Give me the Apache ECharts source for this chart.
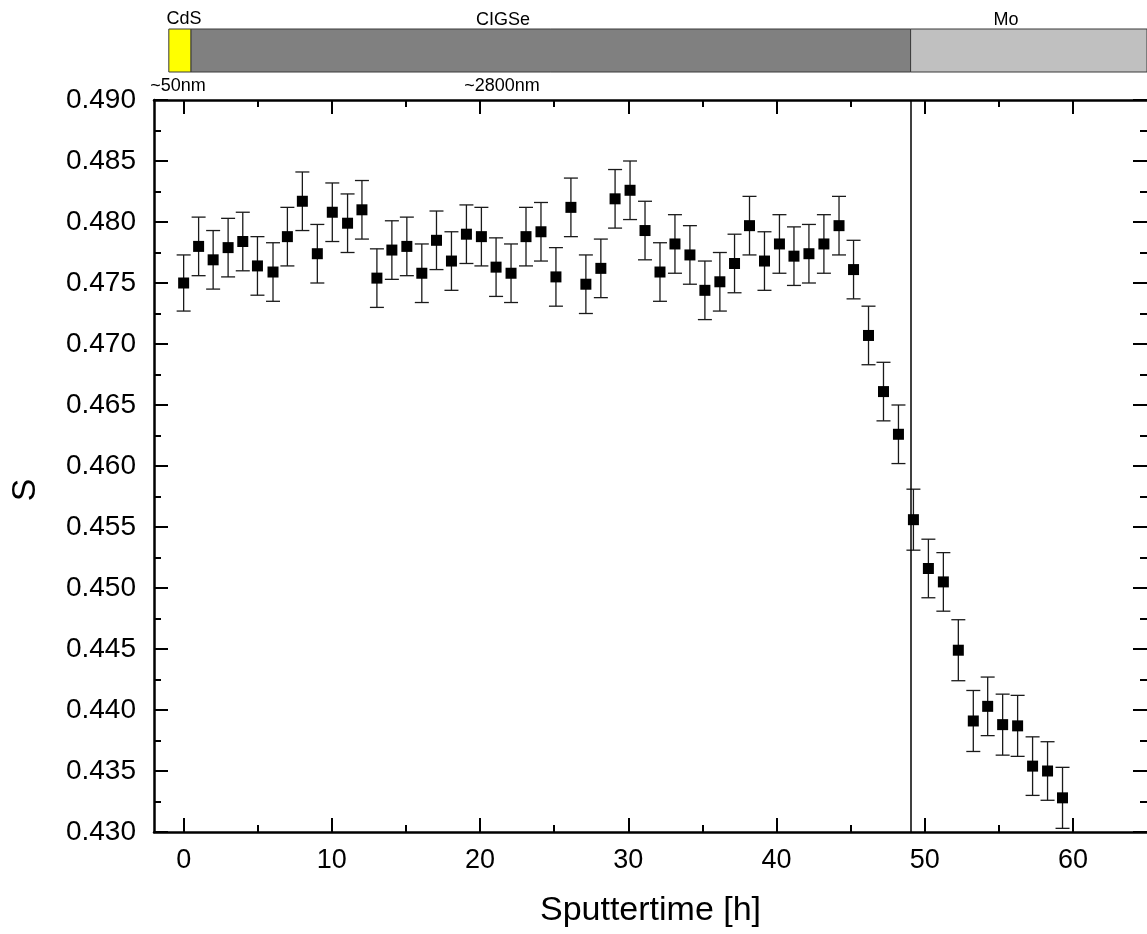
<!DOCTYPE html>
<html>
<head>
<meta charset="utf-8">
<title>S vs Sputtertime</title>
<script src="https://cdn.jsdelivr.net/npm/echarts@6/dist/echarts.min.js"></script>
<style>
  html, body { margin: 0; padding: 0; background: #fff; }
  #chart { width: 1147px; height: 934px; }
</style>
</head>
<body>
<div id="chart"></div>
<script>
// sputter time [h]
var sputterTime = [0, 1.01, 1.99, 3.0, 3.99, 4.98, 6.03, 7.0, 8.01, 9.02,
  10.03, 11.06, 12.03, 13.04, 14.05, 15.06, 16.07, 17.06, 18.07, 19.08,
  20.09, 21.08, 22.09, 23.1, 24.11, 25.12, 26.13, 27.14, 28.15, 29.11,
  30.12, 31.13, 32.14, 33.15, 34.16, 35.17, 36.18, 37.17, 38.18, 39.19,
  40.2, 41.18, 42.19, 43.2, 44.22, 45.2, 46.21, 47.22, 48.23, 49.24,
  50.25, 51.26, 52.27, 53.28, 54.25, 55.26, 56.27, 57.28, 58.29, 59.3];
// S value
var sValue = [0.4750, 0.4780, 0.4769, 0.4779, 0.4784, 0.4764, 0.4759, 0.4788, 0.4817, 0.4774,
  0.4808, 0.4799, 0.4810, 0.4754, 0.4777, 0.4780, 0.4758, 0.4785, 0.4768, 0.4790,
  0.4788, 0.4763, 0.4758, 0.4788, 0.4792, 0.4755, 0.4812, 0.4749, 0.4762, 0.4819,
  0.4826, 0.4793, 0.4759, 0.4782, 0.4773, 0.4744, 0.4751, 0.4766, 0.4797, 0.4768,
  0.4782, 0.4772, 0.4774, 0.4782, 0.4797, 0.4761, 0.4707, 0.4661, 0.4626, 0.4556,
  0.4516, 0.4505, 0.4449, 0.4391, 0.4403, 0.4388, 0.4387, 0.4354, 0.4350, 0.4328];
// error (+/-)
var sError = [0.0023, 0.0024, 0.0024, 0.0024, 0.0024, 0.0024, 0.0024, 0.0024, 0.0024, 0.0024,
  0.0024, 0.0024, 0.0024, 0.0024, 0.0024, 0.0024, 0.0024, 0.0024, 0.0024, 0.0024,
  0.0024, 0.0024, 0.0024, 0.0024, 0.0024, 0.0024, 0.0024, 0.0024, 0.0024, 0.0024,
  0.0024, 0.0024, 0.0024, 0.0024, 0.0024, 0.0024, 0.0024, 0.0024, 0.0024, 0.0024,
  0.0024, 0.0024, 0.0024, 0.0024, 0.0024, 0.0024, 0.0024, 0.0024, 0.0024, 0.0025,
  0.0024, 0.0024, 0.0025, 0.0025, 0.0024, 0.0025, 0.0025, 0.0024, 0.0024, 0.0025];

var xMajorTicks = [0, 10, 20, 30, 40, 50, 60];
var xMinorTicks = [5, 15, 25, 35, 45, 55];
var boundaryTime = 49.05;   // CIGSe / Mo

// layer stack on top
var layerNames = ['CdS', 'CIGSe', 'Mo'];
var layerStart = [-1, 0.5, 49.05];
var layerEnd = [0.5, 49.05, 65];
var thicknessLabels = ['~50nm', '~2800nm'];

var FONT = "'Liberation Sans', Arial, sans-serif";
var layerColors = ['#ffff00', '#808080', '#c0c0c0'];

var myChart = echarts.init(document.getElementById('chart'));

var points = [], errData = [], layerData = [];
for (var i = 0; i < sputterTime.length; i++) {
  points.push([sputterTime[i], sValue[i]]);
  errData.push([sputterTime[i], sValue[i] - sError[i], sValue[i] + sError[i]]);
}
for (var j = 0; j < layerNames.length; j++) {
  layerData.push([layerStart[j], layerEnd[j], j]);
}

function renderError(params, api) {
  var lo = api.coord([api.value(0), api.value(1)]);
  var hi = api.coord([api.value(0), api.value(2)]);
  var w = 7;
  var st = { stroke: '#1a1a1a', lineWidth: 1.3 };
  return {
    type: 'group',
    children: [
      { type: 'line', shape: { x1: lo[0], y1: lo[1], x2: hi[0], y2: hi[1] }, style: st },
      { type: 'line', shape: { x1: lo[0] - w, y1: lo[1], x2: lo[0] + w, y2: lo[1] }, style: st },
      { type: 'line', shape: { x1: hi[0] - w, y1: hi[1], x2: hi[0] + w, y2: hi[1] }, style: st }
    ]
  };
}

function renderLayer(params, api) {
  var p0 = api.coord([api.value(0), 1]);
  var p1 = api.coord([api.value(1), 0]);
  return {
    type: 'rect',
    shape: { x: p0[0], y: p0[1], width: p1[0] - p0[0], height: p1[1] - p0[1] },
    style: { fill: layerColors[api.value(2)], stroke: '#3a3a3a', lineWidth: 1 }
  };
}

function tickAxis(pos, values, len, showLine) {
  return {
    type: 'value', gridIndex: 0, position: pos, min: -2, max: 65,
    axisLine: { show: showLine, onZero: false, lineStyle: { color: '#000', width: 2.5 } },
    axisTick: { show: true, inside: true, length: len, customValues: values,
      lineStyle: { color: '#000', width: 2 } },
    axisLabel: { show: false },
    splitLine: { show: false }
  };
}

var bottomAxis = tickAxis('bottom', xMajorTicks, 14, true);
bottomAxis.axisLabel = { show: true, customValues: xMajorTicks, fontSize: 27,
  fontFamily: FONT, color: '#000', margin: 15 };
bottomAxis.name = 'Sputtertime [h]';
bottomAxis.nameLocation = 'middle';
bottomAxis.nameGap = 62;
bottomAxis.nameTextStyle = { fontSize: 34, fontFamily: FONT, color: '#000' };

function yAxisOf(pos, showLabel, showLine) {
  return {
    type: 'value', gridIndex: 0, position: pos, min: 0.43, max: 0.49, interval: 0.005,
    axisLine: { show: showLine, onZero: false, lineStyle: { color: '#000', width: 2.5 } },
    axisTick: { show: true, inside: true, length: 14, lineStyle: { color: '#000', width: 2 } },
    minorTick: { show: true, splitNumber: 2, length: 7, lineStyle: { color: '#000', width: 2 } },
    axisLabel: { show: showLabel, fontSize: 28, fontFamily: FONT, color: '#000', margin: 18,
      formatter: function (v) { return v.toFixed(3); } },
    splitLine: { show: false }
  };
}

myChart.setOption({
  animation: false,
  backgroundColor: '#fff',
  grid: [
    { left: 154, right: -2, top: 100, bottom: 102 },
    { left: 154, right: -2, top: 29, height: 43 }
  ],
  xAxis: [
    bottomAxis,
    tickAxis('bottom', xMinorTicks, 7, false),
    tickAxis('top', xMajorTicks, 14, true),
    tickAxis('top', xMinorTicks, 7, false),
    { type: 'value', gridIndex: 1, min: -2, max: 65, show: false }
  ],
  yAxis: [
    yAxisOf('left', true, true),
    yAxisOf('right', false, false),
    { type: 'value', gridIndex: 1, min: 0, max: 1, show: false }
  ],
  graphic: [
    { type: 'text', x: 26, y: 490, rotation: Math.PI / 2,
      style: { text: 'S', font: '34px ' + FONT, fill: '#000', align: 'center', verticalAlign: 'middle' } },
    { type: 'text', x: 184, y: 19,
      style: { text: layerNames[0], font: '18px ' + FONT, fill: '#000', align: 'center', verticalAlign: 'middle' } },
    { type: 'text', x: 503, y: 20,
      style: { text: layerNames[1], font: '18px ' + FONT, fill: '#000', align: 'center', verticalAlign: 'middle' } },
    { type: 'text', x: 1006, y: 20,
      style: { text: layerNames[2], font: '18px ' + FONT, fill: '#000', align: 'center', verticalAlign: 'middle' } },
    { type: 'text', x: 178, y: 86,
      style: { text: thicknessLabels[0], font: '18px ' + FONT, fill: '#000', align: 'center', verticalAlign: 'middle' } },
    { type: 'text', x: 502, y: 86,
      style: { text: thicknessLabels[1], font: '18px ' + FONT, fill: '#000', align: 'center', verticalAlign: 'middle' } }
  ],
  series: [
    {
      type: 'custom', xAxisIndex: 4, yAxisIndex: 2,
      renderItem: renderLayer, data: layerData, silent: true
    },
    {
      type: 'custom', xAxisIndex: 0, yAxisIndex: 0,
      renderItem: renderError, data: errData, z: 2, silent: true
    },
    {
      type: 'scatter', xAxisIndex: 0, yAxisIndex: 0,
      symbol: 'rect', symbolSize: 11,
      itemStyle: { color: '#000', opacity: 1 },
      data: points, z: 3,
      markLine: {
        silent: true, symbol: 'none', label: { show: false },
        lineStyle: { color: '#000', width: 1.5, type: 'solid', opacity: 1 },
        data: [{ xAxis: boundaryTime }]
      }
    }
  ]
});
</script>
</body>
</html>
